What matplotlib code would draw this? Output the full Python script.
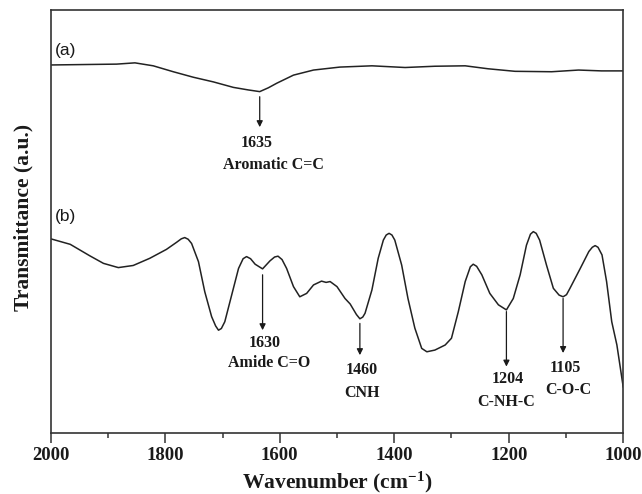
import matplotlib
matplotlib.use("Agg")
import matplotlib.pyplot as plt
from matplotlib.ticker import MultipleLocator

plt.rcParams["font.family"] = "Liberation Serif"
plt.rcParams["font.weight"] = "bold"
plt.rcParams["mathtext.default"] = "regular"

# --- spectrum (a): wavenumber (cm-1) vs transmittance (a.u.) ---
wn_a = [2000, 1943, 1885, 1853, 1821, 1786, 1751, 1716, 1681, 1655, 1635,
        1620, 1605, 1576, 1541, 1495, 1439, 1381, 1329, 1276, 1236, 1189,
        1125, 1078, 1038, 1000]
tr_a = [87.0, 87.1, 87.2, 87.5, 86.8, 85.4, 84.1, 83.0, 81.7, 81.1, 80.7,
        81.6, 82.7, 84.6, 85.8, 86.5, 86.8, 86.4, 86.7, 86.8, 86.1, 85.5,
        85.4, 85.8, 85.6, 85.6]

# --- spectrum (b) ---
wn_b = [2000, 1966, 1932, 1908, 1882, 1856, 1827, 1798, 1780, 1772, 1766,
        1760, 1754, 1742, 1731, 1719, 1712, 1707, 1702, 1696, 1684, 1672,
        1664, 1658, 1651, 1643, 1630, 1617, 1609, 1603, 1596, 1588, 1576,
        1565, 1553, 1541, 1527, 1519, 1512, 1500, 1486, 1477, 1466, 1460,
        1455, 1451, 1439, 1428, 1419, 1414, 1409, 1404, 1399, 1387, 1376,
        1364, 1352, 1343, 1329, 1311, 1300, 1288, 1276, 1267, 1262, 1256,
        1247, 1233, 1218, 1204, 1192, 1180, 1169, 1162, 1157, 1152, 1146,
        1134, 1122, 1112, 1105, 1099, 1093, 1075, 1060, 1054, 1049, 1044,
        1037, 1029, 1020, 1011, 1000]
tr_b = [45.9, 44.6, 41.9, 40.1, 39.1, 39.6, 41.3, 43.4, 45.1, 45.9, 46.2,
        45.8, 44.8, 40.5, 33.4, 27.5, 25.3, 24.3, 24.7, 26.3, 32.6, 38.9,
        41.2, 41.7, 41.2, 39.9, 38.8, 40.7, 41.6, 41.8, 41.0, 38.9, 34.6,
        32.2, 33.0, 35.0, 35.9, 35.6, 35.8, 34.6, 31.8, 30.5, 28.0, 27.0,
        27.4, 28.3, 33.8, 41.3, 45.6, 46.8, 47.2, 46.8, 45.6, 39.7, 31.8,
        24.8, 20.0, 19.2, 19.6, 20.8, 22.4, 28.7, 35.8, 39.3, 39.9, 39.4,
        37.4, 33.0, 30.3, 29.1, 31.8, 37.4, 44.4, 47.0, 47.6, 47.2, 45.6,
        39.7, 34.2, 32.6, 32.2, 32.7, 34.2, 38.9, 42.9, 43.9, 44.3, 43.9,
        42.1, 35.8, 26.3, 20.8, 10.9]

# band assignments
peaks = [1635, 1630, 1460, 1204, 1105]
band_names = ["Aromatic C=C", "Amide C=O", "CNH", "C-NH-C", "C-O-C"]

# arrow start / end and text heights (transmittance units), text x offsets
arrow_top = [79.5, 37.4, 25.9, 28.7, 31.8]
arrow_bot = [72.3, 24.3, 18.4, 15.7, 18.9]
num_y = [68.5, 21.2, 14.9, 12.8, 15.3]
name_y = [63.4, 16.5, 9.5, 7.4, 10.2]
num_dx = [6, -3, -3, -3, -4]
name_dx = [-24, -12, -3, 1, -9]

fig = plt.figure(figsize=(6.42, 4.94), dpi=100)
ax = fig.add_axes([0.0791, 0.1235, 0.8916, 0.8563])

line_col = "#222222"
ax.plot(wn_a, tr_a, color=line_col, lw=1.1)
ax.plot(wn_b, tr_b, color=line_col, lw=1.1)

for i, p in enumerate(peaks):
    ax.annotate("", xy=(p, arrow_bot[i]), xytext=(p, arrow_top[i]),
                arrowprops=dict(arrowstyle="-|>", color="#1a1a1a", lw=0.9,
                                mutation_scale=9, shrinkA=0, shrinkB=0))
    ax.text(p + num_dx[i], num_y[i], str(p), ha="center", va="center",
            fontsize=11.5, fontweight="bold", color="#1a1a1a")
    ax.text(p + name_dx[i], name_y[i], band_names[i], ha="center", va="center",
            fontsize=11.5, fontweight="bold", color="#1a1a1a")

# panel tags in a sans face
ax.text(1992, 90.5, "(a)", ha="left", va="center", fontsize=12.5,
        family="Liberation Sans", fontweight="normal", color="#1a1a1a")
ax.text(1992, 51.1, "(b)", ha="left", va="center", fontsize=12.5,
        family="Liberation Sans", fontweight="normal", color="#1a1a1a")

ax.set_xlim(2000, 1000)
ax.set_ylim(0, 100)
ax.xaxis.set_major_locator(MultipleLocator(200))
ax.xaxis.set_minor_locator(MultipleLocator(100))
ax.tick_params(axis="x", which="major", direction="out", length=7, width=1.1,
               labelsize=13.5, pad=3, colors="#333333", labelcolor="#1a1a1a")
ax.tick_params(axis="x", which="minor", direction="out", length=3.5, width=1.1,
               colors="#333333")
ax.set_yticks([])
for lab in ax.get_xticklabels():
    lab.set_fontweight("bold")

for sp in ax.spines.values():
    sp.set_color("#333333")
    sp.set_linewidth(1.2)

ax.set_xlabel("Wavenumber (cm$^{-1}$)", fontsize=15.5, fontweight="bold",
              labelpad=4, color="#1a1a1a")
ax.set_ylabel("Transmittance (a.u.)", fontsize=15.5, fontweight="bold",
              color="#1a1a1a")
ax.yaxis.set_label_coords(-0.031, 0.51)

fig.savefig("out.png", dpi=100)
